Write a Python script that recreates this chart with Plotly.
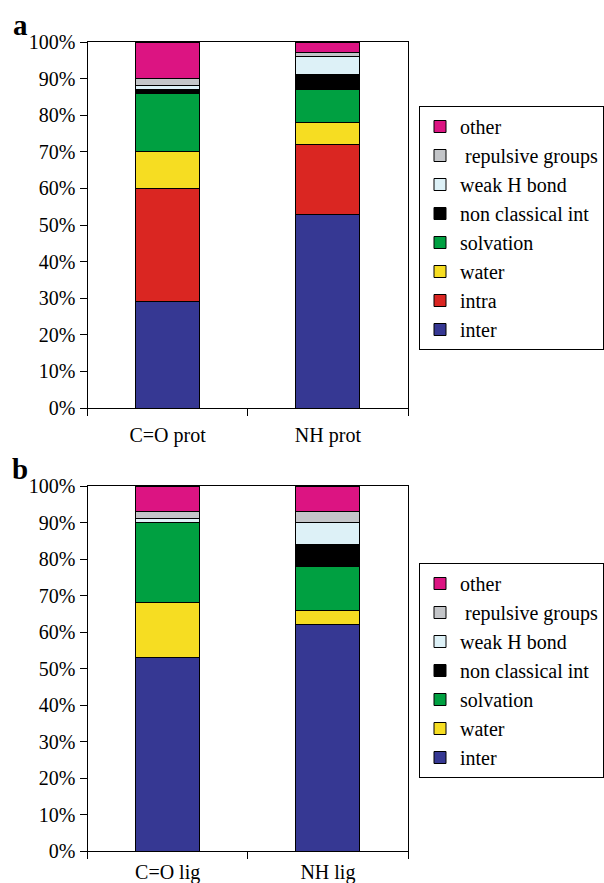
import plotly.graph_objects as go

categories_a = ["C=O prot", "NH prot"]
categories_b = ["C=O lig", "NH lig"]

# panel a values (%)
inter_a = [29, 53]
intra_a = [31, 19]
water_a = [10, 6]
solvation_a = [16, 9]
nonclassical_a = [1, 4]
weakh_a = [1, 5]
repulsive_a = [2, 1.2]
other_a = [10, 2.8]

# panel b values (%)
inter_b = [53, 62]
water_b = [15, 4]
solvation_b = [22, 12]
nonclassical_b = [0, 6]
weakh_b = [1, 6]
repulsive_b = [2, 3]
other_b = [7, 7]

REP = "\u00a0repulsive groups"
colors = {
    "inter": "#363893",
    "intra": "#DA2622",
    "water": "#F6DD22",
    "solvation": "#00A041",
    "non classical int": "#000000",
    "weak H bond": "#DDF1F7",
    REP: "#C3C5C8",
    "other": "#DC1482",
}

panel_a = [
    ("inter", inter_a), ("intra", intra_a), ("water", water_a),
    ("solvation", solvation_a), ("non classical int", nonclassical_a),
    ("weak H bond", weakh_a), (REP, repulsive_a), ("other", other_a),
]
panel_b = [
    ("inter", inter_b), ("water", water_b),
    ("solvation", solvation_b), ("non classical int", nonclassical_b),
    ("weak H bond", weakh_b), (REP, repulsive_b), ("other", other_b),
]

W, H = 604, 883
FONT = "Liberation Serif, Times New Roman, Times, DejaVu Serif, serif"

fig = go.Figure()
for name, vals in panel_a:
    fig.add_trace(go.Bar(
        x=categories_a, y=vals, name=name, width=0.4,
        marker=dict(color=colors[name], line=dict(color="black", width=1)),
        xaxis="x", yaxis="y", legend="legend",
    ))
for name, vals in panel_b:
    fig.add_trace(go.Bar(
        x=categories_b, y=vals, name=name, width=0.4,
        marker=dict(color=colors[name], line=dict(color="black", width=1)),
        xaxis="x2", yaxis="y2", legend="legend2",
    ))

def px_x(p):
    return p / W

def px_y(p):
    return 1 - p / H

axis_common = dict(showline=True, mirror=True, linecolor="black", linewidth=1,
                   ticks="outside", ticklen=7, tickcolor="black", tickwidth=1,
                   showgrid=False, zeroline=False,
                   tickfont=dict(family=FONT, size=20, color="black"))

fig.update_layout(
    width=W, height=H,
    margin=dict(l=0, r=0, t=0, b=0, autoexpand=False),
    paper_bgcolor="white", plot_bgcolor="white",
    barmode="stack", bargap=0.6,
    font=dict(family=FONT, size=20, color="black"),
    xaxis=dict(domain=[px_x(87.5), px_x(408)], anchor="y", type="category",
               range=[-0.5, 1.5], tickson="boundaries", ticklabelstandoff=9,
               **axis_common),
    yaxis=dict(domain=[px_y(408), px_y(42)], anchor="x", range=[0, 100],
               dtick=10, ticksuffix="%", **axis_common),
    xaxis2=dict(domain=[px_x(87.5), px_x(408)], anchor="y2", type="category",
                range=[-0.5, 1.5], tickson="boundaries", ticklabelstandoff=3,
                **axis_common),
    yaxis2=dict(domain=[px_y(851), px_y(486)], anchor="x2", range=[0, 100],
                dtick=10, ticksuffix="%", **axis_common),
    legend=dict(x=px_x(419), y=px_y(106), xanchor="left", yanchor="top",
                bordercolor="black", borderwidth=1, bgcolor="white",
                traceorder="reversed", font=dict(family=FONT, size=20, color="black")),
    legend2=dict(x=px_x(419), y=px_y(563), xanchor="left", yanchor="top",
                 bordercolor="black", borderwidth=1, bgcolor="white",
                 traceorder="reversed", font=dict(family=FONT, size=20, color="black")),
    annotations=[
        dict(text="<b>a</b>", x=px_x(11), y=px_y(25), xref="paper", yref="paper",
             xanchor="left", yanchor="middle", showarrow=False,
             font=dict(family=FONT, size=29, color="black")),
        dict(text="<b>b</b>", x=px_x(10), y=px_y(469), xref="paper", yref="paper",
             xanchor="left", yanchor="middle", showarrow=False,
             font=dict(family=FONT, size=29, color="black")),
    ],
)

fig.write_html("out.html")
